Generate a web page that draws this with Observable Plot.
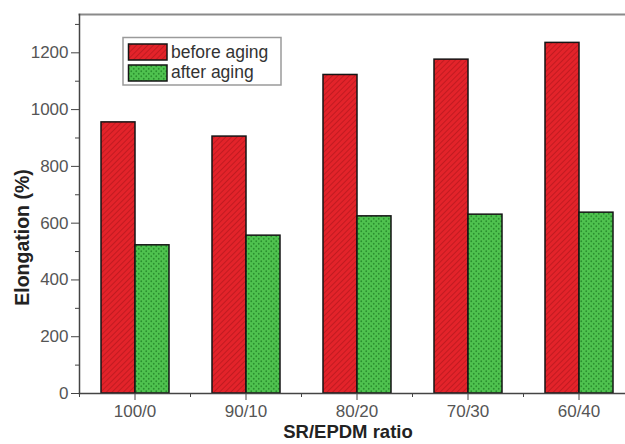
<!DOCTYPE html>
<html>
<head>
<meta charset="utf-8">
<script src="https://cdn.jsdelivr.net/npm/d3@7"></script>
<script src="https://cdn.jsdelivr.net/npm/@observablehq/plot@0.6"></script>
<style>
  html, body { margin: 0; padding: 0; background: #fff; }
  #chart svg { font-family: "Liberation Sans", Arial, sans-serif; overflow: hidden; }
</style>
</head>
<body>
<div id="chart"></div>
<script>
const categories = ["100/0", "90/10", "80/20", "70/30", "60/40"];
const seriesNames = ["before aging", "after aging"];
const beforeAging = [955, 905, 1122, 1176, 1235];
const afterAging = [522, 556, 624, 630, 637];
const yTicks = [0, 200, 400, 600, 800, 1000, 1200];
const yMinorTicks = [100, 300, 500, 700, 900, 1100, 1300];
const yMax = 1335;
const xLabel = "SR/EPDM ratio";
const yLabel = "Elongation (%)";

const beforeRows = categories.map((c, i) => ({category: c, value: beforeAging[i]}));
const afterRows = categories.map((c, i) => ({category: c, value: afterAging[i]}));

const chart = Plot.plot({
  width: 625,
  height: 444,
  marginLeft: 79,
  marginRight: -9,
  marginTop: 14,
  marginBottom: 51,
  style: {fontSize: "17px", color: "#555", background: "white"},
  x: {domain: categories, padding: 0, label: null},
  y: {domain: [0, yMax], label: null},
  marks: [
    Plot.barY(beforeRows, {x: "category", y: "value", fill: "url(#hatchRed)", stroke: "#151515", strokeWidth: 1.5, insetLeft: 22, insetRight: 55}),
    Plot.barY(afterRows, {x: "category", y: "value", fill: "url(#dotGreen)", stroke: "#151515", strokeWidth: 1.5, insetLeft: 56, insetRight: 21}),
    Plot.frame({anchor: "top", stroke: "#8a8a8a", strokeWidth: 2}),
    Plot.frame({anchor: "left", stroke: "#444", strokeWidth: 1.5}),
    Plot.frame({anchor: "bottom", stroke: "#444", strokeWidth: 1.5}),
    Plot.axisY({ticks: yTicks, tickFormat: d3.format("d"), tickSize: 8, tickPadding: 3, label: null, stroke: "#444", fill: "#555"}),
    Plot.axisY({ticks: yMinorTicks, tickSize: 4, text: null, label: null, stroke: "#444"}),
    Plot.axisX({tickSize: 7, tickPadding: 4, label: null, stroke: "#444", fill: "#555"}),
    Plot.axisX({tickSize: 4, text: null, label: null, dx: -55.5, stroke: "#444"})
  ]
});

const svg = d3.select(chart);
const defs = svg.insert("defs", ":first-child");
const red = defs.append("pattern").attr("id", "hatchRed").attr("patternUnits", "userSpaceOnUse")
  .attr("width", 4).attr("height", 4).attr("patternTransform", "rotate(45)");
red.append("rect").attr("width", 4).attr("height", 4).attr("fill", "#e3232a");
red.append("line").attr("x1", 0.5).attr("y1", 0).attr("x2", 0.5).attr("y2", 4).attr("stroke", "#bd1a20").attr("stroke-width", 0.9);
const green = defs.append("pattern").attr("id", "dotGreen").attr("patternUnits", "userSpaceOnUse")
  .attr("width", 5).attr("height", 5);
green.append("rect").attr("width", 5).attr("height", 5).attr("fill", "#4fc24f");
green.append("circle").attr("cx", 1.25).attr("cy", 1.25).attr("r", 0.9).attr("fill", "#2a8f2e");
green.append("circle").attr("cx", 3.75).attr("cy", 3.75).attr("r", 0.9).attr("fill", "#2a8f2e");

// axis titles
svg.append("text").attr("transform", "translate(28.5,237.5) rotate(-90)")
  .attr("text-anchor", "middle").attr("font-weight", "bold").attr("font-size", 19.5)
  .attr("fill", "#222").text(yLabel);
svg.append("text").attr("x", 348).attr("y", 438)
  .attr("text-anchor", "middle").attr("font-weight", "bold").attr("font-size", 18.5)
  .attr("fill", "#222").text(xLabel);

// legend
const lg = svg.append("g");
lg.append("rect").attr("x", 123).attr("y", 37.5).attr("width", 158).attr("height", 47.5)
  .attr("fill", "white").attr("stroke", "#9a9a9a").attr("stroke-width", 1.5);
const fills = ["url(#hatchRed)", "url(#dotGreen)"];
seriesNames.forEach((name, i) => {
  lg.append("rect").attr("x", 128.5).attr("y", 44 + i * 21).attr("width", 38.5).attr("height", 16)
    .attr("fill", fills[i]).attr("stroke", "#151515").attr("stroke-width", 1.5);
  lg.append("text").attr("x", 171).attr("y", 58 + i * 19.5).attr("font-size", 17.5)
    .attr("text-anchor", "start").attr("fill", "#333").text(name);
});

document.getElementById("chart").appendChild(chart);
</script>
</body>
</html>
